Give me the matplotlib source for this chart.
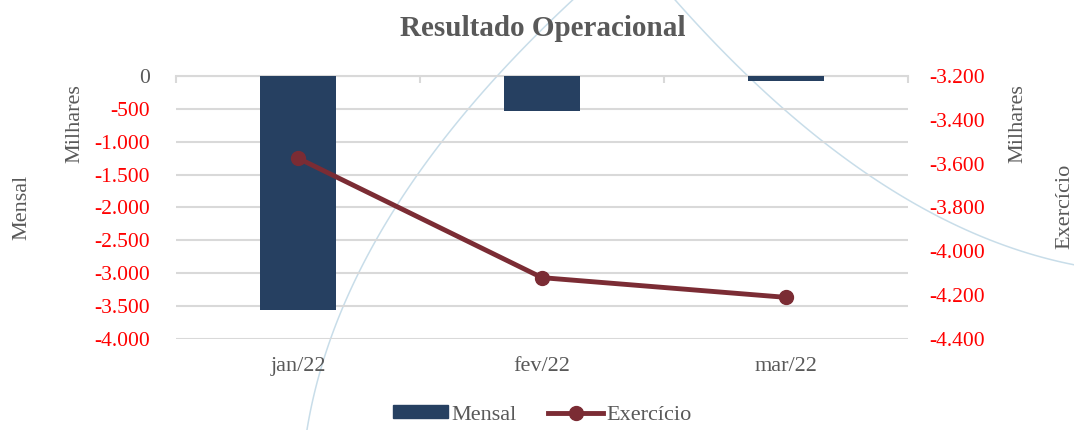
import numpy as np
import matplotlib
matplotlib.use('Agg')
import matplotlib.pyplot as plt
from matplotlib.lines import Line2D
from matplotlib.patches import Patch

meses = ['jan/22', 'fev/22', 'mar/22']
mensal = [-3565, -535, -75]          # milhares
exercicio = [-3575, -4120, -4210]    # milhares
ticks_mensal = list(range(0, -4001, -500))
ticks_exercicio = list(range(-3200, -4401, -200))

bar_color = '#264061'
line_color = '#7b2c34'
grid_color = '#d9d9d9'
text_gray = '#595959'

plt.rcParams['font.family'] = ['Liberation Serif', 'DejaVu Serif']


def fmt(v):
    return f"{v:,.0f}".replace(",", ".")


fig = plt.figure(figsize=(10.74, 4.30), dpi=100)
ax1 = fig.add_axes([0.1639, 0.2116, 0.6815, 0.6117])
ax2 = ax1.twinx()
ax1.patch.set_visible(False)
ax2.patch.set_visible(False)

# decorative arc in the background
fx = lambda px: px / 1074
fy = lambda py: 1 - py / 430
ly = np.array([430, 333, 213, 133, 60, 0])
lx = np.array([305, 337, 390, 447, 513, 573])
yy = np.linspace(0, 430, 100)
xx = np.polyval(np.polyfit(ly, lx, 2), yy)
fig.add_artist(Line2D(fx(xx), fy(yy), color='#c8dde9', lw=1.1, zorder=-1))
rx = np.array([675, 713, 783, 910, 1074])
ry = np.array([0, 40, 110, 200, 265])
xx = np.linspace(675, 1074, 100)
yy = np.polyval(np.polyfit(rx, ry, 2), xx)
fig.add_artist(Line2D(fx(xx), fy(yy), color='#c8dde9', lw=1.1, zorder=-1))

x = np.arange(len(meses))
ax1.bar(x, mensal, width=0.31, color=bar_color, zorder=3)
ax1.set_ylim(-4000, 0)
ax1.set_xlim(-0.5, 2.5)
ax1.set_yticks(ticks_mensal)
ax1.set_yticklabels([fmt(t) for t in ticks_mensal], fontsize=15.5)
for lab, t in zip(ax1.get_yticklabels(), ticks_mensal):
    lab.set_color('red' if t < 0 else text_gray)
ax1.tick_params(axis='y', length=0, pad=19)
ax1.yaxis.grid(True, color=grid_color, lw=1.5, zorder=0)
ax1.set_axisbelow(True)

ax1.set_xticks(x)
ax1.set_xticklabels(meses, fontsize=16, color=text_gray)
ax1.tick_params(axis='x', length=0, pad=13)
ax1.set_xticks([-0.5, 0.5, 1.5, 2.5], minor=True)
ax1.tick_params(axis='x', which='minor', top=True, bottom=False, direction='in',
                length=5, width=1.5, color=grid_color)

for ax in (ax1, ax2):
    for s in ax.spines.values():
        s.set_visible(False)
ax1.spines['top'].set_visible(True)
ax1.spines['top'].set_color(grid_color)
ax1.spines['top'].set_linewidth(1.5)

ax2.plot(x, exercicio, color=line_color, lw=3.5, marker='o', markersize=10, zorder=4)
ax2.set_ylim(-4400, -3200)
ax2.set_yticks(ticks_exercicio)
ax2.set_yticklabels([fmt(t) for t in ticks_exercicio], fontsize=15.5, color='red')
ax2.tick_params(axis='y', length=0, pad=15)

fig.suptitle('Resultado Operacional', x=0.505, y=0.965, fontsize=21,
             fontweight='bold', color=text_gray)

fig.text(fx(22), fy(207), 'Mensal', rotation=90, ha='center', va='center',
         fontsize=16, color=text_gray)
fig.text(fx(75), fy(124), 'Milhares', rotation=90, ha='center', va='center',
         fontsize=16, color=text_gray)
fig.text(fx(1018), fy(124), 'Milhares', rotation=90, ha='center', va='center',
         fontsize=16, color=text_gray)
fig.text(fx(1065), fy(206), 'Exercício', rotation=90, ha='center', va='center',
         fontsize=16, color=text_gray)

handles = [Patch(color=bar_color),
           Line2D([], [], color=line_color, lw=3.5, marker='o', markersize=10)]
leg = fig.legend(handles, ['Mensal', 'Exercício'], loc='center',
                 bbox_to_anchor=(0.505, fy(415)), ncol=2, frameon=False,
                 fontsize=16, handlelength=2.5, handleheight=0.5,
                 handletextpad=0.15, columnspacing=1.4)
for t in leg.get_texts():
    t.set_color(text_gray)

fig.savefig('out.png', dpi=100)
